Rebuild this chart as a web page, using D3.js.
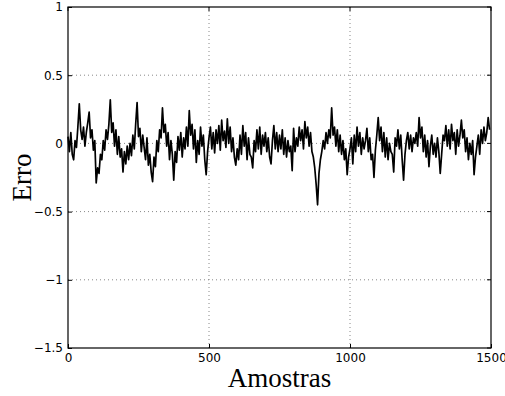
<!DOCTYPE html>
<html><head><meta charset="utf-8">
<script src="https://cdn.jsdelivr.net/npm/d3@7"></script>
<style>body{margin:0;background:#fff}svg{display:block}</style>
</head><body>
<svg id="c" width="505" height="396"></svg>
<script>
const step = 5; // samples between listed values
const errValues = [
0.05,-0.06,0.08,-0.08,-0.12,0.02,-0.03,0.12,0.29,0.10,
0.03,0.12,-0.02,0.08,0.15,0.23,0.04,0.10,-0.05,0.02,
-0.29,-0.18,-0.22,-0.08,-0.12,0.02,-0.05,0.10,0.03,0.14,
0.32,0.08,0.15,-0.02,0.10,-0.08,0.05,-0.10,-0.04,-0.21,
-0.06,-0.15,-0.02,-0.12,0.00,-0.09,0.06,-0.04,0.14,0.30,
0.05,0.11,-0.06,0.06,-0.03,-0.12,0.04,-0.16,-0.08,-0.21,
-0.28,-0.10,-0.17,0.02,-0.06,0.10,0.04,0.26,0.08,0.14,
-0.02,0.08,-0.12,0.02,-0.08,-0.27,-0.06,-0.14,0.05,-0.05,
0.08,-0.10,0.04,-0.04,0.12,-0.02,0.24,0.06,0.14,-0.04,
0.10,-0.14,0.02,-0.08,0.12,-0.02,0.06,-0.12,-0.23,-0.06,
0.04,0.12,-0.04,0.08,-0.07,0.10,0.00,0.13,-0.05,0.17,
0.02,0.09,-0.03,0.18,0.00,0.12,-0.06,0.04,-0.10,-0.16,
-0.04,-0.12,0.06,-0.08,0.13,-0.02,0.08,-0.12,0.04,-0.08,
-0.10,-0.18,0.02,-0.06,0.10,-0.04,0.12,-0.08,0.06,-0.02,
0.08,-0.06,0.04,-0.10,-0.15,0.02,0.13,-0.04,0.08,-0.06,
0.06,-0.04,0.10,-0.08,0.04,-0.10,0.02,-0.06,-0.02,-0.20,
0.11,-0.06,0.04,-0.02,0.12,0.02,0.10,-0.04,0.16,0.04,
0.12,-0.02,0.08,-0.06,-0.10,-0.18,-0.30,-0.45,-0.22,-0.12,
-0.06,0.02,-0.04,0.08,0.00,0.10,0.04,0.26,0.06,0.12,
-0.02,0.10,-0.06,0.06,-0.08,0.02,-0.12,-0.04,-0.23,-0.10,
-0.04,0.04,-0.15,0.06,-0.06,0.12,-0.02,0.08,-0.08,0.04,
-0.04,0.02,0.11,-0.06,0.04,-0.12,-0.08,-0.25,-0.05,0.06,
0.19,0.02,0.12,-0.06,0.08,-0.10,0.04,-0.12,0.00,-0.06,
-0.08,-0.21,0.04,-0.02,0.10,-0.04,0.06,-0.12,-0.27,-0.08,
0.02,0.08,-0.04,0.06,-0.06,0.04,0.00,0.08,-0.02,0.19,
0.04,0.12,-0.06,0.06,-0.10,0.02,-0.17,-0.02,0.06,-0.08,
0.00,-0.10,0.04,-0.06,-0.22,-0.08,0.06,0.02,0.13,-0.02,
0.10,-0.04,0.14,0.02,0.08,-0.08,0.10,-0.02,0.06,0.17,
0.04,0.10,-0.06,0.04,-0.12,0.00,-0.08,0.02,-0.23,-0.10,
-0.02,0.06,-0.08,0.10,0.00,0.12,0.02,0.08,0.19,0.10
];
const xTicks = [0, 500, 1000, 1500];
const yTicks = [1, 0.5, 0, -0.5, -1, -1.5];
const xLabel = "Amostras";
const yLabel = "Erro";

const svg = d3.select("#c");
const L = 68, R = 491, T = 7, B = 348;
const x = d3.scaleLinear().domain([0, 1500]).range([L, R]);
const y = d3.scaleLinear().domain([-1.5, 1]).range([B, T]);
const fmt = v => (v < 0 ? "\u2212" : "") + Math.abs(v);

// grid
const g = svg.append("g");
g.selectAll(".gx").data(xTicks.slice(1, -1)).join("line")
  .attr("x1", d => x(d)).attr("x2", d => x(d)).attr("y1", T).attr("y2", B)
  .attr("stroke", "#888").attr("stroke-width", 1).attr("stroke-dasharray", "1,3");
g.selectAll(".gy").data(yTicks.slice(1, -1)).join("line")
  .attr("y1", d => y(d)).attr("y2", d => y(d)).attr("x1", L).attr("x2", R)
  .attr("stroke", "#888").attr("stroke-width", 1).attr("stroke-dasharray", "1,3");

// signal
const line = d3.line().x((d, i) => x(i * step)).y(d => y(d));
svg.append("path").datum(errValues).attr("d", line)
  .attr("fill", "none").attr("stroke", "#000").attr("stroke-width", 1.7)
  .attr("stroke-linejoin", "round");

// axes (matplotlib style, ticks inward)
const ax = svg.append("g").attr("transform", `translate(0,${B})`)
  .call(d3.axisBottom(x).tickValues(xTicks).tickSize(-4).tickPadding(6).tickFormat(fmt));
const ay = svg.append("g").attr("transform", `translate(${L},0)`)
  .call(d3.axisLeft(y).tickValues(yTicks).tickSize(-4).tickPadding(5).tickFormat(fmt));
[ax, ay].forEach(a => {
  a.select(".domain").remove();
  a.selectAll("text").attr("font-family", "DejaVu Sans").attr("font-size", 12).attr("fill", "#000");
  a.selectAll(".tick line").attr("stroke", "#000");
});
ax.selectAll(".tick text").attr("dy", "0.71em").attr("y", 5);
// top & right inward ticks
svg.selectAll(".tt").data(xTicks).join("line")
  .attr("x1", d => x(d)).attr("x2", d => x(d)).attr("y1", T).attr("y2", T + 4).attr("stroke", "#000");
svg.selectAll(".rt").data(yTicks).join("line")
  .attr("y1", d => y(d)).attr("y2", d => y(d)).attr("x1", R).attr("x2", R - 4).attr("stroke", "#000");

// frame
svg.append("rect").attr("x", L).attr("y", T).attr("width", R - L).attr("height", B - T)
  .attr("fill", "none").attr("stroke", "#000").attr("stroke-width", 1.2);

// labels
svg.append("text").attr("x", (L + R) / 2).attr("y", 387).attr("text-anchor", "middle")
  .attr("font-family", "Liberation Serif").attr("font-size", 27).text(xLabel);
svg.append("text").attr("transform", `translate(31,${(T + B) / 2}) rotate(-90)`)
  .attr("text-anchor", "middle").attr("font-family", "Liberation Serif").attr("font-size", 27).text(yLabel);
</script>
</body></html>
